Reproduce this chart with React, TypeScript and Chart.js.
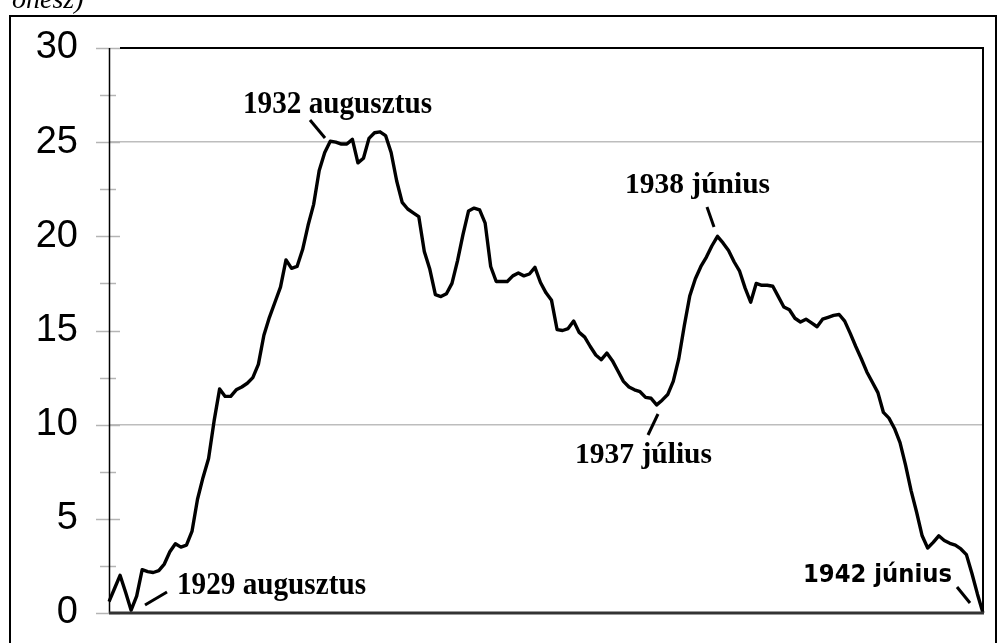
import React, { useEffect, useRef } from "react";
import { Chart, registerables } from "chart.js";

Chart.register(...registerables);

// Monthly values, April 1929 – June 1942
const v1929 = [0.6, 1.3, 2.0, 1.1, 0.15, 0.9, 2.3, 2.2, 2.15];
const v1930 = [2.25, 2.6, 3.25, 3.68, 3.5, 3.6, 4.33, 6.04, 7.2, 8.2, 10.2, 11.9];
const v1931 = [11.5, 11.5, 11.85, 12.0, 12.2, 12.5, 13.2, 14.75, 15.7, 16.5, 17.3, 18.75];
const v1932 = [18.3, 18.4, 19.3, 20.6, 21.7, 23.5, 24.45, 25.05, 25.0, 24.9, 24.9, 25.15];
const v1933 = [23.9, 24.15, 25.2, 25.5, 25.55, 25.35, 24.45, 22.95, 21.8, 21.45, 21.25, 21.05];
const v1934 = [19.2, 18.25, 16.9, 16.8, 16.95, 17.5, 18.7, 20.1, 21.35, 21.5, 21.4, 20.7];
const v1935 = [18.4, 17.6, 17.6, 17.6, 17.9, 18.05, 17.9, 18.0, 18.35, 17.55, 17.0, 16.6];
const v1936 = [15.05, 15.0, 15.1, 15.5, 14.9, 14.65, 14.15, 13.7, 13.45, 13.8, 13.4, 12.85];
const v1937 = [12.3, 12.0, 11.85, 11.75, 11.45, 11.4, 11.05, 11.3, 11.6, 12.3, 13.5, 15.25];
const v1938 = [16.85, 17.75, 18.4, 18.9, 19.5, 20.0, 19.65, 19.25, 18.65, 18.15, 17.25, 16.5];
const v1939 = [17.5, 17.4, 17.4, 17.35, 16.8, 16.25, 16.1, 15.65, 15.45, 15.6, 15.4, 15.2];
const v1940 = [15.6, 15.7, 15.8, 15.85, 15.5, 14.85, 14.15, 13.5, 12.8, 12.25, 11.7, 10.65];
const v1941 = [10.35, 9.8, 9.05, 7.85, 6.5, 5.35, 4.1, 3.45, 3.75, 4.1, 3.85, 3.7];
const v1942 = [3.6, 3.4, 3.1, 2.1, 1.0, 0.0];

const yearSeries = [v1929, v1930, v1931, v1932, v1933, v1934, v1935, v1936, v1937, v1938, v1939, v1940, v1941, v1942];
const startYear = 1929;
const startMonth = 4;

const yMin = 0;
const yMax = 30;
const yStep = 5;
const gridValues = [10, 25];

const annotationTexts = ["1932 augusztus", "1938 június", "1937 július", "1929 augusztus", "1942 június"];

const values: number[] = [];
yearSeries.forEach((arr) => arr.forEach((v) => values.push(v)));
const labels: string[] = [];
{
  let y = startYear;
  let m = startMonth;
  for (let i = 0; i < values.length; i++) {
    labels.push(`${y}-${String(m).padStart(2, "0")}`);
    m++;
    if (m > 12) { m = 1; y++; }
  }
}

// layout of the annotation texts and their pointer strokes (pixels)
const annLayout = [
  { x: 243, base: 113, w: 189, font: 'bold 31px "Liberation Serif"', line: [310, 120, 325, 138] },
  { x: 625, base: 193, w: 145, font: 'bold 30px "Liberation Serif"', line: [707, 207, 714, 227] },
  { x: 575, base: 463, w: 137, font: 'bold 30px "Liberation Serif"', line: [658, 414, 648, 435] },
  { x: 177, base: 594, w: 189, font: 'bold 31px "Liberation Serif"', line: [145, 605, 167, 592] },
  { x: 803, base: 582, w: 149, font: 'bold 25px "DejaVu Sans"', line: [957, 587, 970, 603] },
];

function drawStretched(ctx: CanvasRenderingContext2D, text: string, x: number, base: number, font: string, w: number) {
  ctx.save();
  ctx.font = font;
  ctx.fillStyle = "#000";
  ctx.textAlign = "left";
  ctx.textBaseline = "alphabetic";
  const mw = ctx.measureText(text).width;
  ctx.translate(x, base);
  ctx.scale(w / mw, 1);
  ctx.fillText(text, 0, 0);
  ctx.restore();
}

const decorPlugin = {
  id: "decor",
  beforeDatasetsDraw(chart: any) {
    const { ctx, chartArea } = chart;
    const ys = chart.scales.y;
    const left = chartArea.left;
    ctx.save();
    ctx.strokeStyle = "#b4b4b4";
    ctx.lineWidth = 1.5;
    for (let v = yMin; v <= yMax; v += yStep / 2) {
      const py = Math.round(ys.getPixelForValue(v)) + 0.5;
      const major = v % yStep === 0;
      ctx.beginPath();
      ctx.moveTo(left - (major ? 13 : 9), py);
      ctx.lineTo(left + (major ? 11 : 7), py);
      ctx.stroke();
    }
    ctx.strokeStyle = "#000";
    ctx.lineWidth = 1.5;
    ctx.beginPath();
    ctx.moveTo(left + 0.5, chartArea.top);
    ctx.lineTo(left + 0.5, chartArea.bottom);
    ctx.stroke();
    ctx.restore();
  },
  afterDatasetsDraw(chart: any) {
    const { ctx, chartArea } = chart;
    const { left, right, top, bottom } = chartArea;
    ctx.save();
    // plot frame
    ctx.strokeStyle = "#000";
    ctx.lineWidth = 2;
    ctx.beginPath();
    ctx.moveTo(left + 11, top);
    ctx.lineTo(right, top);
    ctx.lineTo(right, bottom);
    ctx.stroke();
    ctx.strokeStyle = "#333";
    ctx.lineWidth = 3;
    ctx.beginPath();
    ctx.moveTo(left, bottom);
    ctx.lineTo(right + 1, bottom);
    ctx.stroke();
    // annotations
    ctx.strokeStyle = "#000";
    ctx.lineWidth = 3;
    ctx.lineCap = "butt";
    annotationTexts.forEach((t, i) => {
      const a = annLayout[i];
      drawStretched(ctx, t, a.x, a.base, a.font, a.w);
      ctx.beginPath();
      ctx.moveTo(a.line[0], a.line[1]);
      ctx.lineTo(a.line[2], a.line[3]);
      ctx.stroke();
    });
    // outer frame
    ctx.strokeStyle = "#000";
    ctx.lineWidth = 2;
    ctx.beginPath();
    ctx.moveTo(10, 650);
    ctx.lineTo(10, 16);
    ctx.lineTo(996, 16);
    ctx.lineTo(996, 650);
    ctx.stroke();
    ctx.font = 'italic 28px "Liberation Serif"';
    ctx.fillStyle = "#000";
    ctx.textBaseline = "alphabetic";
    ctx.fillText("önesz)", 12, 8);
    ctx.restore();
  },
};

export default function App() {
  const ref = useRef<HTMLCanvasElement | null>(null);
  useEffect(() => {
    if (!ref.current) return;
    const chart = new Chart(ref.current, {
      type: "line",
      data: {
        labels,
        datasets: [
          {
            data: values,
            borderColor: "#000",
            borderWidth: 3.4,
            pointRadius: 0,
            tension: 0,
            fill: false,
            borderJoinStyle: "round",
          },
        ],
      },
      options: {
        animation: false,
        responsive: false,
        layout: { padding: { top: 48, right: 15, bottom: 30, left: 0 } },
        plugins: { legend: { display: false }, tooltip: { enabled: false } },
        scales: {
          x: { type: "category", display: false, offset: false },
          y: {
            min: yMin,
            max: yMax,
            afterFit: (s: any) => {
              s.width = 109;
              s.paddingTop = 0;
              s.paddingBottom = 0;
            },
            ticks: {
              stepSize: yStep,
              padding: 31,
              color: "#000",
              font: { family: '"Liberation Sans", Arial, sans-serif', size: 38 },
            },
            grid: {
              drawTicks: false,
              lineWidth: 1.5,
              color: (c: any) => (c.tick && gridValues.includes(c.tick.value) ? "#bdbdbd" : "rgba(0,0,0,0)"),
            },
            border: { display: false },
          },
        },
      },
      plugins: [decorPlugin],
    });
    return () => chart.destroy();
  }, []);
  return (
    <div style={{ position: "absolute", left: 0, top: 0, width: 998, height: 643, background: "#fff" }}>
      <canvas ref={ref} width={998} height={643} style={{ display: "block" }} />
    </div>
  );
}
